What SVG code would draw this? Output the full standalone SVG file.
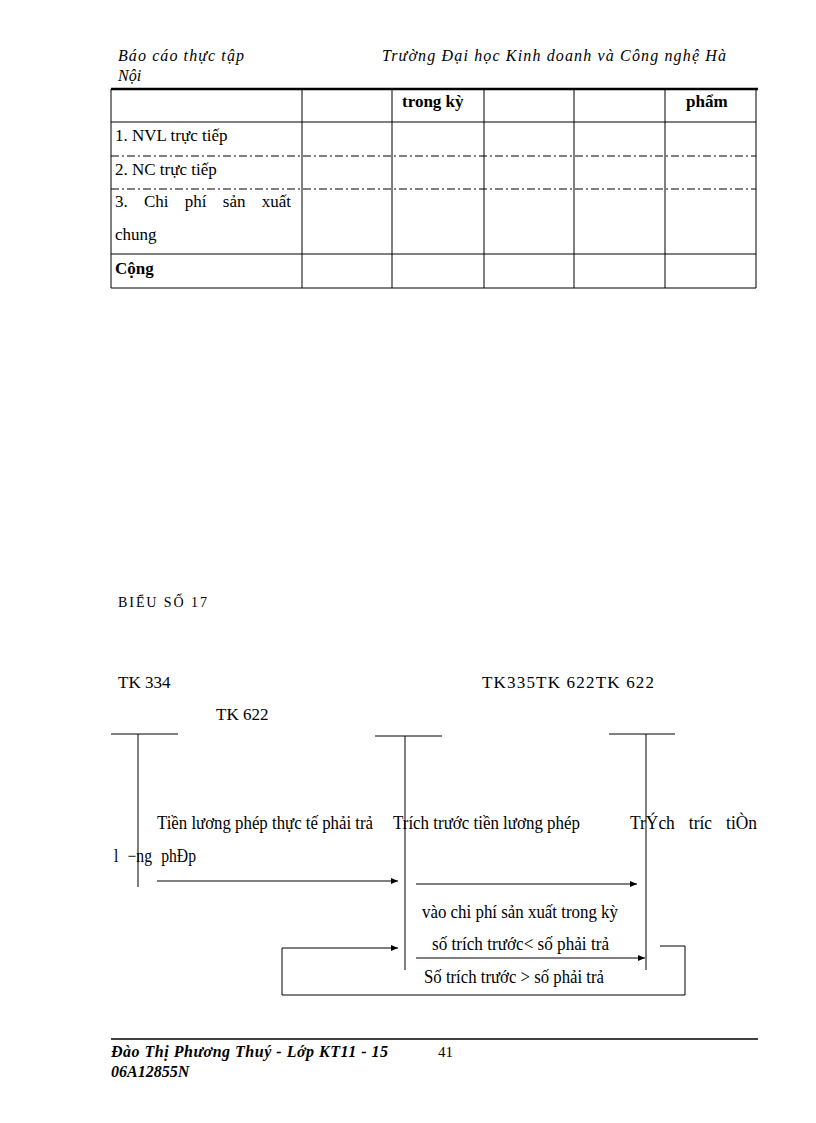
<svg xmlns="http://www.w3.org/2000/svg" width="816" height="1123" viewBox="0 0 816 1123">
<defs><marker id="a" markerWidth="8" markerHeight="8" refX="7" refY="3" orient="auto" markerUnits="userSpaceOnUse"><path d="M0,0 L7,3 L0,6 Z" fill="#000"/></marker></defs>
<style>
text{font-family:"Liberation Serif",serif;font-size:17px;fill:#000}
.h{font-style:italic;font-size:16px}
.b{font-weight:bold}
.n{font-size:18px}
.t{font-size:17px}
line,path.c{stroke:#000;stroke-width:1;fill:none}
.d{stroke-dasharray:8,3,2,3}
</style>
<rect width="816" height="1123" fill="#fff"/>
<g id="header">
<text class="h" x="118" y="61" textLength="126">Báo cáo thực tập</text>
<text class="h" x="118" y="81">Nội</text>
<text class="h" x="382" y="61" textLength="344">Trường Đại học Kinh doanh và Công nghệ Hà</text>
</g>
<g id="table">
<line x1="111" y1="89" x2="758" y2="89" style="stroke-width:2.5"/>
<line x1="111" y1="122" x2="756" y2="122"/>
<line x1="111" y1="156" x2="756" y2="156" class="d"/>
<line x1="111" y1="189" x2="756" y2="189" class="d"/>
<line x1="111" y1="254" x2="756" y2="254"/>
<line x1="111" y1="288" x2="756" y2="288"/>
<line x1="111" y1="89" x2="111" y2="288"/><line x1="302" y1="89" x2="302" y2="288"/>
<line x1="392" y1="89" x2="392" y2="288"/><line x1="484" y1="89" x2="484" y2="288"/>
<line x1="574" y1="89" x2="574" y2="288"/><line x1="665" y1="89" x2="665" y2="288"/>
<line x1="756" y1="89" x2="756" y2="288"/>
<text class="b" x="402" y="107">trong kỳ</text>
<text class="b" x="686" y="107">phẩm</text>
<text x="115" y="141">1. NVL trực tiếp</text>
<text x="115" y="175">2. NC trực tiếp</text>
<text x="115" y="207" word-spacing="12">3. Chi phí sản xuất</text>
<text x="115" y="240">chung</text>
<text class="b" x="115" y="274">Cộng</text>
</g>
<text id="title" x="118" y="607" textLength="89" style="font-size:14px">BIỂU SỐ 17</text>
<g id="tk334"><text class="t" x="118" y="688">TK 334</text><line x1="111" y1="734" x2="178" y2="734"/><line x1="138" y1="734" x2="138" y2="887"/></g>
<g id="tk622a"><text class="t" x="216" y="720">TK 622</text></g>
<g id="tk335"><text class="t" x="482" y="688" textLength="172">TK335TK 622TK 622</text><line x1="375" y1="736" x2="442" y2="736"/><line x1="405" y1="736" x2="405" y2="970"/></g>
<g id="tk622"><line x1="609" y1="734" x2="675" y2="734"/><line x1="646" y1="734" x2="646" y2="970"/></g>
<g id="connectors">
<line x1="157" y1="881" x2="398" y2="881" marker-end="url(#a)"/>
<line x1="416" y1="884" x2="637" y2="884" marker-end="url(#a)"/>
<line x1="416" y1="958" x2="645" y2="958" marker-end="url(#a)"/>
<path class="c" d="M660,946 H685 V995 H282 V948 H398" marker-end="url(#a)"/>
</g>
<g id="labels">
<text class="n" x="157" y="829" textLength="216" lengthAdjust="spacingAndGlyphs">Tiền lương phép thực tế phải trả</text>
<text class="n" x="393" y="829" textLength="187" lengthAdjust="spacingAndGlyphs">Trích trước tiền lương phép</text>
<text class="n" x="630" y="829" textLength="127" word-spacing="10" lengthAdjust="spacingAndGlyphs">TrÝch tr­íc tiÒn</text>
<text class="n" x="114" y="862" textLength="82" word-spacing="6" lengthAdjust="spacingAndGlyphs">l −ng phÐp</text>
<text class="n" x="422" y="918" textLength="196" lengthAdjust="spacingAndGlyphs">vào chi phí sản xuất trong kỳ</text>
<text class="n" x="432" y="950" textLength="177" lengthAdjust="spacingAndGlyphs">số trích trước&lt; số phải trả</text>
<text class="n" x="424" y="983" textLength="180" lengthAdjust="spacingAndGlyphs">Số trích trước &gt; số phải trả</text>
</g>
<g id="footer">
<line x1="111" y1="1039" x2="758" y2="1039" style="stroke-width:1.5"/>
<text class="h b" x="111" y="1057" textLength="277">Đào Thị Phương Thuý - Lớp KT11 - 15</text>
<text x="438" y="1057" style="font-size:15px">41</text>
<text class="h b" x="111" y="1077">06A12855N</text>
</g>
</svg>
